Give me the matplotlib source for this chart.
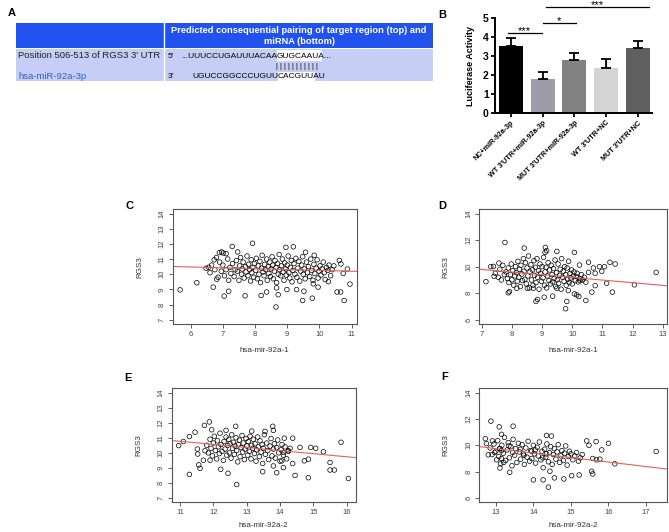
import matplotlib
matplotlib.use("Agg")
import matplotlib.pyplot as plt
from matplotlib.patches import Rectangle

plt.rcParams['font.family'] = ['Liberation Sans', 'DejaVu Sans']

W, H = 669, 532

# ---- panel A: predicted pairing table
row_labels = ["Position 506-513 of RGS3 3' UTR", "hsa-miR-92a-3p"]
header_text = "Predicted consequential pairing of target region (top) and\nmiRNA (bottom)"
target_seq = "UUUCCUGAUUUACAAGUGCAAUA"
mirna_seq = "UGUCCGGCCCUGUUCACGUUAU"
seed_len = 8
n_pipes = 11

# ---- panel B: luciferase assay
groups = ["NC+miR-92a-3p", "WT 3'UTR+miR-92a-3p", "MUT 3'UTR+miR-92a-3p",
          "WT 3'UTR+NC", "MUT 3'UTR+NC"]
luc_mean = [3.56, 1.79, 2.81, 2.37, 3.42]
luc_err = [0.39, 0.40, 0.35, 0.49, 0.40]
bar_colors = ['#000000', '#9d9ca8', '#828282', '#d4d4d4', '#5f5f5f']
sig_from = [-0.1, 1.0, 1.1]
sig_to = [0.97, 2.06, 4.37]
sig_y = [4.25, 4.75, 5.6]
sig_text = ['***', '*', '***']

# ---- panels C-F: RGS3 vs miR-92a expression (x, y)
pts_c = [
    (5.67, 8.97), (6.19, 9.44), (6.48, 10.39), (6.56, 10.46), (6.70, 9.15), (6.73, 10.95),
    (6.81, 9.67), (7.04, 8.56), (7.18, 8.88), (6.89, 11.43), (6.96, 11.47), (7.01, 11.40),
    (7.10, 11.36), (7.29, 11.83), (7.46, 11.47), (7.69, 8.58), (7.92, 12.04), (8.19, 8.60),
    (8.36, 8.83), (8.65, 7.84), (8.67, 9.10), (8.72, 8.65), (8.99, 8.99), (8.96, 11.77),
    (9.19, 11.81), (9.29, 8.99), (9.48, 8.27), (9.52, 8.88), (9.57, 11.45), (9.78, 8.42),
    (9.81, 9.37), (9.96, 9.15), (9.84, 11.25), (10.28, 9.51), (10.55, 8.83), (10.66, 8.83),
    (10.77, 8.27), (10.95, 9.35), (10.87, 10.34), (10.62, 10.91), (10.67, 10.68), (10.74, 10.05),
    (6.60, 10.10), (6.65, 10.60), (6.75, 10.30), (6.80, 11.10), (6.85, 9.80), (6.90, 10.80),
    (6.95, 10.20), (7.00, 10.60), (7.05, 9.90), (7.10, 10.30), (7.15, 11.00), (7.18, 9.60),
    (7.22, 10.45), (7.25, 10.05), (7.30, 10.70), (7.35, 9.85), (7.38, 10.30), (7.42, 10.90),
    (7.45, 10.20), (7.50, 9.60), (7.52, 10.55), (7.55, 11.10), (7.58, 10.00), (7.60, 10.35),
    (7.63, 10.80), (7.66, 9.75), (7.70, 10.50), (7.72, 10.15), (7.75, 11.20), (7.78, 9.90),
    (7.80, 10.65), (7.83, 10.30), (7.86, 9.55), (7.88, 10.95), (7.90, 10.10), (7.93, 10.45),
    (7.96, 9.80), (7.98, 10.70), (8.02, 10.25), (8.04, 11.05), (8.07, 9.70), (8.10, 10.55),
    (8.12, 10.00), (8.15, 10.85), (8.17, 9.45), (8.20, 10.40), (8.22, 11.25), (8.25, 10.15),
    (8.28, 9.90), (8.30, 10.65), (8.33, 10.30), (8.36, 11.00), (8.38, 9.60), (8.41, 10.50),
    (8.43, 10.05), (8.46, 10.80), (8.48, 9.85), (8.50, 10.35), (8.53, 11.15), (8.55, 10.60),
    (8.57, 9.70), (8.60, 10.20), (8.62, 10.90), (8.65, 10.45), (8.67, 9.45), (8.70, 10.70),
    (8.72, 10.00), (8.75, 11.30), (8.77, 10.30), (8.80, 9.90), (8.82, 10.55), (8.85, 11.00),
    (8.87, 10.15), (8.90, 9.60), (8.92, 10.75), (8.95, 10.35), (8.97, 9.95), (9.00, 10.60),
    (9.03, 11.20), (9.05, 10.10), (9.08, 9.75), (9.10, 10.45), (9.13, 10.90), (9.15, 9.50),
    (9.18, 10.25), (9.21, 10.70), (9.24, 10.00), (9.27, 11.05), (9.30, 9.80), (9.33, 10.40),
    (9.36, 10.85), (9.39, 9.55), (9.42, 10.20), (9.45, 10.60), (9.48, 11.15), (9.50, 10.00),
    (9.53, 10.35), (9.56, 9.70), (9.60, 10.80), (9.63, 10.10), (9.66, 10.50), (9.70, 9.85),
    (9.73, 11.00), (9.76, 10.25), (9.80, 9.60), (9.83, 10.65), (9.86, 10.05), (9.90, 10.40),
    (9.93, 10.95), (9.96, 9.75), (9.99, 10.20), (10.02, 10.55), (10.05, 9.95), (10.08, 10.35),
    (10.12, 10.80), (10.15, 10.10), (10.18, 9.65), (10.22, 10.45), (10.26, 10.25), (10.30, 10.60),
    (10.35, 9.90), (10.40, 10.30), (10.45, 10.55),
]
pts_d = [
    (7.14, 8.87), (7.30, 10.00), (7.39, 10.02), (7.41, 9.27), (7.57, 10.27), (7.77, 11.82),
    (7.88, 8.03), (7.92, 8.12), (8.41, 11.40), (8.16, 8.37), (8.51, 8.37), (8.71, 8.37),
    (8.80, 7.38), (8.85, 7.53), (9.07, 7.70), (9.11, 11.45), (9.10, 11.08), (9.15, 11.20),
    (9.35, 7.78), (9.49, 11.15), (9.49, 8.37), (9.78, 6.83), (9.82, 7.38), (9.87, 8.20),
    (10.07, 11.07), (10.07, 7.95), (10.15, 7.87), (10.22, 7.75), (10.24, 10.12), (10.45, 7.45),
    (10.45, 8.83), (10.54, 10.33), (10.54, 9.57), (10.65, 8.08), (10.70, 9.90), (10.76, 8.57),
    (10.90, 10.00), (10.98, 9.65), (11.07, 10.00), (11.14, 8.75), (11.25, 10.33), (11.33, 8.08),
    (11.42, 10.20), (12.06, 8.63), (12.78, 9.57), (10.76, 9.50), (10.26, 8.95),
    (7.45, 9.50), (7.55, 9.20), (7.60, 9.80), (7.65, 9.00), (7.70, 10.10), (7.75, 9.40),
    (7.80, 9.60), (7.85, 9.10), (7.88, 9.90), (7.90, 8.80), (7.95, 9.40), (7.98, 10.20),
    (8.00, 9.00), (8.03, 9.70), (8.06, 8.60), (8.10, 9.30), (8.12, 10.00), (8.15, 9.55),
    (8.18, 8.90), (8.20, 10.40), (8.23, 9.20), (8.25, 9.80), (8.28, 8.50), (8.30, 10.10),
    (8.33, 9.45), (8.35, 8.95), (8.38, 10.60), (8.40, 9.65), (8.43, 9.05), (8.45, 10.30),
    (8.48, 8.70), (8.50, 9.90), (8.53, 9.30), (8.55, 10.80), (8.58, 8.40), (8.60, 9.60),
    (8.63, 10.15), (8.65, 9.00), (8.68, 9.75), (8.70, 8.60), (8.73, 10.45), (8.75, 9.35),
    (8.78, 9.95), (8.80, 8.80), (8.83, 10.60), (8.85, 9.20), (8.88, 9.70), (8.90, 8.30),
    (8.93, 10.20), (8.95, 9.50), (8.98, 8.90), (9.00, 10.00), (9.03, 9.15), (9.05, 10.70),
    (9.08, 8.60), (9.10, 9.60), (9.13, 9.95), (9.15, 8.40), (9.18, 9.30), (9.20, 10.30),
    (9.23, 8.95), (9.25, 9.75), (9.28, 8.70), (9.30, 10.10), (9.33, 9.40), (9.35, 8.85),
    (9.38, 9.85), (9.40, 9.10), (9.43, 10.50), (9.45, 8.50), (9.48, 9.55), (9.50, 9.00),
    (9.53, 10.20), (9.55, 8.75), (9.58, 9.35), (9.60, 9.80), (9.63, 8.30), (9.65, 10.60),
    (9.68, 9.20), (9.70, 9.65), (9.73, 8.90), (9.75, 10.00), (9.78, 9.40), (9.80, 8.60),
    (9.83, 9.90), (9.85, 9.05), (9.88, 10.40), (9.90, 8.80), (9.93, 9.50), (9.95, 9.15),
    (9.98, 9.75), (10.00, 8.70), (10.03, 9.30), (10.06, 9.60), (10.10, 8.95), (10.13, 9.25),
    (10.16, 9.50), (10.20, 8.85), (10.25, 9.10), (10.30, 9.40), (10.35, 9.00), (10.40, 9.20),
]
pts_e = [
    (10.96, 10.48), (11.10, 10.75), (11.28, 8.57), (11.28, 11.08), (11.45, 11.37), (11.52, 10.25),
    (11.53, 9.92), (11.56, 9.20), (11.60, 8.97), (11.70, 9.51), (11.73, 11.82), (11.88, 12.05),
    (11.75, 10.14), (11.90, 9.51), (11.95, 11.53), (12.22, 8.91), (12.44, 8.64), (12.70, 7.90),
    (12.67, 11.76), (12.38, 11.49), (13.15, 11.44), (13.48, 8.75), (13.55, 11.42), (13.78, 11.76),
    (13.80, 11.49), (13.90, 8.68), (14.10, 9.02), (14.13, 10.97), (14.38, 10.97), (14.38, 9.29),
    (14.45, 8.50), (14.60, 10.36), (14.73, 9.47), (14.85, 9.58), (14.85, 8.35), (14.92, 10.36),
    (15.07, 10.30), (15.30, 10.07), (15.50, 9.36), (15.50, 8.86), (15.63, 8.86), (15.83, 10.70),
    (16.05, 8.30), (14.10, 10.03), (14.25, 10.14), (14.05, 9.47), (13.80, 9.13),
    (11.80, 10.50), (11.85, 10.00), (11.90, 10.90), (11.93, 10.30), (11.97, 9.80), (12.00, 10.65),
    (12.03, 11.10), (12.06, 10.15), (12.10, 9.60), (12.12, 10.80), (12.15, 10.40), (12.18, 9.95),
    (12.20, 11.30), (12.23, 10.55), (12.26, 10.10), (12.30, 9.50), (12.32, 10.75), (12.35, 10.25),
    (12.38, 11.05), (12.40, 9.85), (12.43, 10.50), (12.46, 10.90), (12.48, 10.00), (12.50, 10.60),
    (12.53, 9.65), (12.55, 11.20), (12.58, 10.30), (12.60, 10.70), (12.63, 9.90), (12.65, 10.45),
    (12.68, 11.00), (12.70, 10.15), (12.73, 9.40), (12.75, 10.55), (12.78, 10.85), (12.80, 9.75),
    (12.83, 10.35), (12.86, 11.15), (12.88, 10.05), (12.90, 10.65), (12.93, 9.55), (12.95, 10.25),
    (12.98, 10.95), (13.00, 10.45), (13.03, 9.85), (13.05, 10.75), (13.08, 10.10), (13.10, 11.10),
    (13.13, 9.60), (13.15, 10.50), (13.18, 10.30), (13.20, 10.90), (13.23, 9.95), (13.25, 10.60),
    (13.28, 9.45), (13.30, 10.20), (13.33, 11.05), (13.35, 10.40), (13.38, 9.75), (13.40, 10.80),
    (13.43, 10.05), (13.46, 10.55), (13.48, 9.30), (13.50, 10.30), (13.53, 11.20), (13.56, 9.90),
    (13.60, 10.65), (13.63, 10.15), (13.66, 9.55), (13.70, 10.45), (13.73, 10.95), (13.76, 9.80),
    (13.80, 10.25), (13.83, 10.60), (13.86, 9.65), (13.90, 10.35), (13.93, 10.85), (13.96, 10.00),
    (14.00, 9.45), (14.03, 10.20), (14.06, 10.55), (14.10, 9.85), (14.15, 10.40), (14.20, 9.60),
    (14.25, 10.10), (14.30, 10.30),
]
pts_f = [
    (12.72, 10.50), (12.75, 10.13), (12.80, 9.28), (12.87, 11.83), (12.91, 10.33), (12.97, 9.45),
    (13.09, 11.40), (13.15, 10.83), (13.15, 9.00), (13.11, 9.75), (13.11, 8.28), (13.21, 8.70),
    (13.37, 7.95), (13.46, 11.45), (14.00, 7.38), (14.26, 7.38), (14.40, 6.83), (14.44, 8.03),
    (14.56, 7.53), (14.81, 7.45), (15.22, 7.75), (15.02, 7.70), (15.55, 8.03), (15.58, 7.83),
    (15.42, 10.33), (15.48, 10.00), (15.67, 10.28), (16.00, 10.15), (16.17, 8.60), (17.27, 9.53),
    (15.82, 9.65), (15.77, 8.95), (15.68, 8.90), (15.58, 9.00), (14.48, 10.70), (14.35, 10.75),
    (12.85, 9.80), (12.90, 9.30), (12.95, 10.10), (13.00, 9.55), (13.02, 8.90), (13.05, 10.35),
    (13.08, 9.15), (13.10, 9.75), (13.13, 8.60), (13.16, 10.00), (13.20, 9.40), (13.23, 10.60),
    (13.26, 8.85), (13.30, 9.65), (13.33, 10.20), (13.36, 9.05), (13.40, 9.90), (13.43, 8.45),
    (13.46, 10.45), (13.50, 9.25), (13.53, 9.75), (13.56, 8.70), (13.60, 10.15), (13.63, 9.50),
    (13.66, 8.95), (13.70, 10.05), (13.73, 9.35), (13.76, 8.55), (13.80, 9.80), (13.83, 9.10),
    (13.86, 10.30), (13.90, 8.80), (13.93, 9.60), (13.96, 9.00), (14.00, 10.00), (14.03, 9.35),
    (14.06, 8.65), (14.10, 9.85), (14.13, 9.20), (14.16, 10.25), (14.20, 8.90), (14.23, 9.55),
    (14.26, 8.30), (14.30, 9.70), (14.33, 9.10), (14.36, 10.10), (14.40, 8.75), (14.43, 9.45),
    (14.46, 9.90), (14.50, 8.55), (14.53, 9.30), (14.56, 9.75), (14.60, 8.95), (14.63, 9.50),
    (14.66, 10.05), (14.70, 8.70), (14.73, 9.20), (14.76, 9.60), (14.80, 8.85), (14.83, 9.40),
    (14.86, 9.95), (14.90, 8.50), (14.93, 9.15), (14.96, 9.55), (15.00, 9.35), (15.05, 8.90),
    (15.10, 9.20), (15.15, 9.45), (15.20, 8.80), (15.25, 9.05), (15.30, 9.30), (13.15, 9.60),
    (13.45, 9.45), (13.75, 9.25), (14.05, 9.65), (14.35, 9.35), (13.35, 9.95), (13.65, 9.70),
    (13.95, 9.55), (14.25, 9.05),
]
# fitted lines (intercept, slope)
fit_c = (10.815, -0.056)
fit_d = (11.19, -0.20)
fit_e = (13.02, -0.205)
fit_f = (14.17, -0.34)

fig = plt.figure(figsize=(W / 100, H / 100), dpi=100)


def px_axes(left, top, right, bottom):
    return fig.add_axes([left / W, 1 - bottom / H, (right - left) / W, (bottom - top) / H])


# ================= A
axa = fig.add_axes([0, 1 - 90 / H, 440 / W, 90 / H])
axa.set_xlim(0, 440)
axa.set_ylim(90, 0)
axa.axis('off')
head_blue = '#2152ee'
body_col = '#c6cef6'
axa.add_patch(Rectangle((16, 23), 417, 25, color=head_blue, lw=0))
axa.add_patch(Rectangle((16, 49), 417, 32, color=body_col, lw=0))
axa.plot([164, 164], [23, 81], color='white', lw=1)
axa.text(299, 36, header_text, color='white', fontsize=6.7, fontweight='bold',
         ha='center', va='center', linespacing=1.3)
axa.text(18, 56, row_labels[0], fontsize=6.8, color='#222222', va='center')
axa.text(18, 76.5, row_labels[1], fontsize=6.8, color='#2e62b8', va='center')

# highlighted seed region
axa.add_patch(Rectangle((277, 50), 45, 11, color='white', lw=0))
axa.add_patch(Rectangle((278, 72), 37, 9, color='white', lw=0))
seq_fs = 6
axa.text(168, 56, "5'", fontsize=seq_fs, va='center')
axa.text(277, 56, "..." + target_seq[:-seed_len], fontsize=seq_fs, va='center', ha='right')
axa.text(277, 56, target_seq[-seed_len:] + "...", fontsize=seq_fs, va='center', ha='left')
axa.text(296.5, 66, " ".join(["|"] * n_pipes), fontsize=5.5, va='center', ha='center')
axa.text(168, 76.5, "3'", fontsize=seq_fs, va='center')
axa.text(278, 76.5, mirna_seq[:-seed_len], fontsize=seq_fs, va='center', ha='right')
axa.text(278, 76.5, mirna_seq[-seed_len:], fontsize=seq_fs, va='center', ha='left')
axa.text(12, 13, 'A', fontsize=8, fontweight='bold', ha='center', va='center')

# ================= B
axb = px_axes(495, 18.3, 652, 113.3)
xpos = range(len(groups))
axb.bar(xpos, luc_mean, width=0.76, color=bar_colors, zorder=2)
axb.errorbar(xpos, luc_mean, yerr=[[0] * len(luc_err), luc_err], fmt='none',
             ecolor='black', elinewidth=1.3, capsize=3.5, capthick=1.3, zorder=3)
for x0, x1, y, t in zip(sig_from, sig_to, sig_y, sig_text):
    axb.plot([x0, x1], [y, y], color='black', lw=0.9, clip_on=False)
    axb.text((x0 + x1) / 2, y + 0.08, t, ha='center', va='center', fontsize=8,
             clip_on=False)
axb.set_xlim(-0.5, 4.45)
axb.set_ylim(0, 5)
axb.set_yticks(range(6))
axb.set_xticks(list(xpos))
axb.set_xticklabels(groups, rotation=45, ha='right', rotation_mode='anchor',
                    fontsize=5.2, fontweight='bold')
for lbl in axb.get_yticklabels():
    lbl.set_fontweight('bold')
axb.tick_params(axis='y', labelsize=7.5, width=1.3, length=3, pad=1.5)
axb.tick_params(axis='x', width=1.3, length=3, pad=1.5)
axb.spines[['top', 'right']].set_visible(False)
axb.spines[['left', 'bottom']].set_linewidth(1.4)
axb.set_ylabel('Luciferase Activity', fontsize=6.5, fontweight='bold')
axb.yaxis.set_label_coords(-0.13, 0.5)
fig.text(442 / W, 1 - 15 / H, 'B', fontsize=8, fontweight='bold', ha='center', va='center')


# ================= C-F
def scatter_panel(rect, pts, fit, xlabel, xlim, ylim, xticks, yticks, letter, letter_xy, xlab_y):
    ax = px_axes(*rect)
    xs, ys = zip(*pts)
    ax.scatter(xs, ys, s=11, facecolors='none', edgecolors='black', linewidths=0.5)
    ax.axline((0, fit[0]), slope=fit[1], color='#e06060', lw=0.8)
    ax.set_xlim(*xlim)
    ax.set_ylim(*ylim)
    ax.set_xticks(xticks)
    ax.set_yticks(yticks)
    ax.tick_params(direction='out', length=3, width=0.6, labelsize=5.5,
                   colors='#444444', pad=2)
    ax.tick_params(axis='y', labelrotation=90)
    for lbl in ax.get_yticklabels():
        lbl.set_va('center')
    for sp in ax.spines.values():
        sp.set_color('#555555')
        sp.set_linewidth(0.8)
    ax.set_xlabel(xlabel, fontsize=5.8, color='#333333', va='center')
    ax.set_ylabel('RGS3', fontsize=5.8, color='#333333', va='center')
    ax.xaxis.set_label_coords(0.5, xlab_y)
    ax.yaxis.set_label_coords(-0.18, 0.5)
    fig.text(letter_xy[0] / W, 1 - letter_xy[1] / H, letter, fontsize=8,
             fontweight='bold', ha='center', va='center')
    return ax


scatter_panel((172.7, 209.3, 356.7, 324), pts_c, fit_c, 'hsa-mir-92a-1',
              (5.44, 11.16), (6.72, 14.28), range(6, 12), range(7, 15), 'C', (130, 206), -0.227)
scatter_panel((479.3, 209.3, 666.7, 324), pts_d, fit_d, 'hsa-mir-92a-1',
              (6.92, 13.13), (5.68, 14.32), range(7, 14), range(6, 15, 2), 'D', (442, 206), -0.227)
scatter_panel((171.7, 388.3, 355.7, 502.3), pts_e, fit_e, 'hsa-mir-92a-2',
              (10.75, 16.27), (6.72, 14.28), range(11, 17), range(7, 15), 'E', (128, 378), -0.2)
scatter_panel((479.3, 388.3, 666.7, 502.3), pts_f, fit_f, 'hsa-mir-92a-2',
              (12.56, 17.55), (5.68, 14.32), range(13, 18), range(6, 15, 2), 'F', (445, 377), -0.2)

fig.savefig('out.png', dpi=100)
